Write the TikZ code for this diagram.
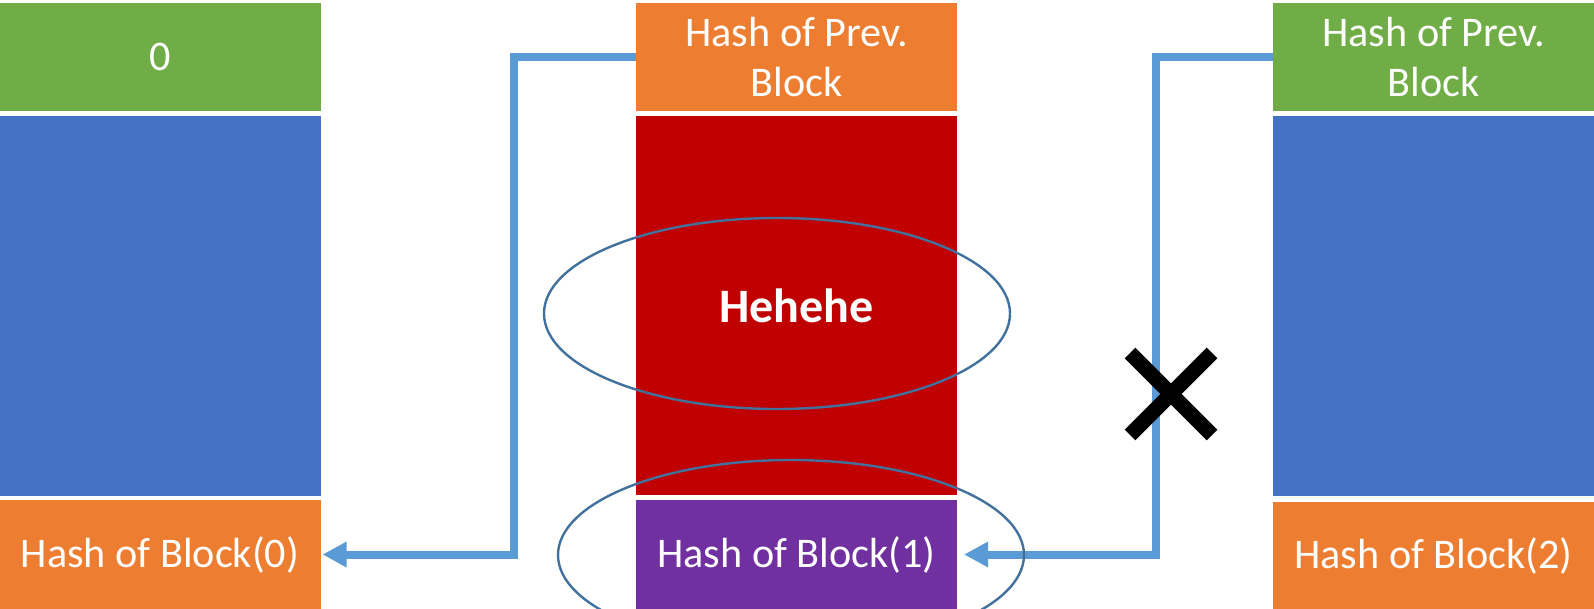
\documentclass[tikz,border=0pt]{standalone}
\usepackage{fontspec}
\setmainfont{Carlito}
\usetikzlibrary{arrows.meta}
\definecolor{cgreen}{HTML}{70AD47}
\definecolor{cblue}{HTML}{4472C4}
\definecolor{corange}{HTML}{ED7D31}
\definecolor{cred}{HTML}{C00000}
\definecolor{cpurple}{HTML}{7030A0}
\definecolor{cline}{HTML}{5B9BD5}
\definecolor{cell}{HTML}{41719C}
\tikzset{
  box/.style={inner sep=0pt, outer sep=0pt, text=white, align=center,
    minimum width=160.5pt, font=\fontsize{21.1}{25}\selectfont},
  conn/.style={draw=cline, line width=4pt, line join=miter,
    -{Triangle[length=12pt,width=12pt]}},
  ring/.style={draw=cell, line width=1.2pt},
  cross/.style={draw=black, line width=7.5pt}
}
\begin{document}
\begin{tikzpicture}[x=0.5pt,y=-0.5pt]
\useasboundingbox (0,0) rectangle (1594,609);
\clip (0,0) rectangle (1594,609);
% left block
\node[box, fill=cgreen, minimum height=54pt] (lprev) at (160,57) {0};
\node[box, fill=cblue, minimum height=190pt] (lbody) at (160,306) {};
\node[box, fill=corange, minimum height=54.5pt] (lhash) at (160,554.5) {Hash of Block(0)};
% middle block
\node[box, fill=corange, minimum height=54pt] (mprev) at (796.5,57) {Hash of Prev.\\Block};
\node[box, fill=cred, minimum height=189.5pt, font=\fontsize{24}{28}\selectfont\bfseries] (mbody) at (796.5,305.5) {Hehehe};
\node[box, fill=cpurple, minimum height=54.5pt] (mhash) at (796.5,554.5) {Hash of Block(1)};
% right block
\node[box, fill=cgreen, minimum height=54pt] (rprev) at (1433.5,57) {Hash of Prev.\\Block};
\node[box, fill=cblue, minimum height=190pt] (rbody) at (1433.5,306) {};
\node[box, fill=corange, minimum height=53.5pt] (rhash) at (1433.5,555.5) {Hash of Block(2)};
% connectors
\draw[conn] (mprev.west) -- ++(-122,0) |- ([xshift=1pt]lhash.east);
\draw[conn] (rprev.west) -- ++(-117,0) |- ([xshift=3.5pt]mhash.east);
% ellipses
\draw[ring] (777,313.5) ellipse [x radius=233, y radius=95.5];
\draw[ring] (791,555) ellipse [x radius=233, y radius=95];
% cross
\coordinate (xm) at (1171,394);
\draw[cross] ([shift={(-41,-41)}]xm) -- ([shift={(41,41)}]xm);
\draw[cross] ([shift={(-41,41)}]xm) -- ([shift={(41,-41)}]xm);
\end{tikzpicture}
\end{document}
